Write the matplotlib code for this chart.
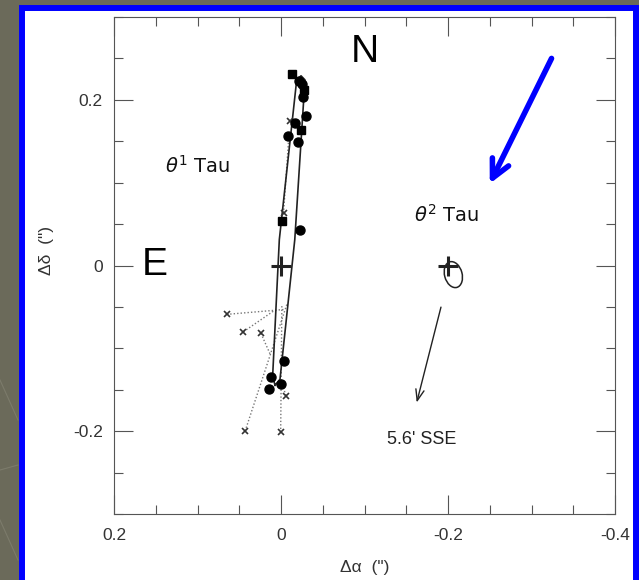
import matplotlib
matplotlib.use("Agg")
import matplotlib.pyplot as plt
from matplotlib.patches import Rectangle, Ellipse
from matplotlib.ticker import MultipleLocator, FixedLocator, FixedFormatter

# ---------------- data ----------------
# orbit track of theta1 Tau (thin closed loop)
orbit_x = [0.0072, 0.0100, 0.0020, -0.0188, -0.0240, -0.0287, -0.0165, 0.0012, 0.0072]
orbit_y = [-0.1446, -0.1334, 0.0313, 0.2241, 0.2290, 0.2241, 0.0313, -0.1373, -0.1446]

# filled circle observations
circ_x = [-0.022, -0.025, -0.026, -0.030, -0.017, -0.0088, -0.0208, -0.023,
          -0.0036, 0.012, 0.000, 0.014]
circ_y = [0.223, 0.219, 0.204, 0.180, 0.172, 0.156, 0.149, 0.0425,
          -0.115, -0.1346, -0.143, -0.149]

# filled square observations
sq_x = [-0.0132, -0.0275, -0.0236, -0.001]
sq_y = [0.231, 0.212, 0.164, 0.054]

# cross observations and their predicted positions (dotted residuals)
obs_x = [0.065, 0.045, 0.024, -0.006, 0.043, 0.0004, -0.003, -0.011]
obs_y = [-0.059, -0.080, -0.082, -0.157, -0.200, -0.2016, 0.063, 0.174]
pred_x = [-0.005, 0.009, 0.013, 0.001, -0.007, -0.001, -0.009, -0.011]
pred_y = [-0.053, -0.055, -0.107, -0.137, -0.047, -0.049, 0.150, 0.174]

# star positions
star_x = [0.0, -0.2]
star_y = [0.0, 0.0]

# error ellipse near theta2 Tau
ell_center = (-0.2064, -0.0110)
ell_w, ell_h, ell_ang = 0.021, 0.032, -15

# motion arrow
arrow_start = (-0.1924, -0.047)
arrow_end = (-0.1617, -0.1687)

x_major = [0.2, 0.0, -0.2, -0.4]
x_labels = ["0.2", "0", "-0.2", "-0.4"]
y_major = [0.2, 0.0, -0.2]
y_labels = ["0.2", "0", "-0.2"]

# ---------------- figure ----------------
W, H = 639, 580
fig = plt.figure(figsize=(W / 100, H / 100), dpi=100)
fig.patch.set_facecolor("#6b6a5a")

# faint slide texture lines
for (x0, y0, x1, y1) in [(0, 380, 18, 420), (0, 470, 18, 465), (0, 520, 18, 560)]:
    fig.add_artist(plt.Line2D([x0 / W, x1 / W], [1 - y0 / H, 1 - y1 / H],
                              color="#7c7b6b", lw=0.8, zorder=-2))

# white slide area and blue frame
fig.add_artist(Rectangle((22 / W, -20 / H), (636 - 22) / W, (H - 7.5 + 20) / H,
                         transform=fig.transFigure, facecolor="white",
                         edgecolor="none", zorder=-1))
fig.add_artist(Rectangle((22 / W, -20 / H), (636 - 22) / W, (H - 7.5 + 20) / H,
                         transform=fig.transFigure, facecolor="none",
                         edgecolor="#0000ff", lw=4.3, zorder=20))

ax = fig.add_axes([114 / W, 1 - 514 / H, 501 / W, 497 / H])
ax.set_facecolor("white")
ax.set_xlim(0.2, -0.4)
ax.set_ylim(-0.3, 0.3)

tick_col = "#555555"
for s in ax.spines.values():
    s.set_color(tick_col)
    s.set_linewidth(0.8)

ax.xaxis.set_major_locator(FixedLocator(x_major))
ax.xaxis.set_major_formatter(FixedFormatter(x_labels))
ax.yaxis.set_major_locator(FixedLocator(y_major))
ax.yaxis.set_major_formatter(FixedFormatter(y_labels))
ax.xaxis.set_minor_locator(MultipleLocator(0.05))
ax.yaxis.set_minor_locator(MultipleLocator(0.05))
ax.tick_params(which="both", direction="in", top=True, right=True,
               color=tick_col, width=0.8)
ax.tick_params(which="major", length=14, labelsize=12.5, labelcolor="#333333")
ax.tick_params(which="minor", length=6.5)
ax.tick_params(axis="x", which="major", pad=10)
ax.tick_params(axis="y", which="major", pad=8)
for lab in ax.get_xticklabels() + ax.get_yticklabels():
    lab.set_fontfamily("Liberation Sans")

ax.set_xlabel('Δα  (")', fontsize=12.5, color="#333333", family="Liberation Sans")
ax.set_ylabel('Δδ  (")', fontsize=12.5, color="#333333", family="Liberation Sans")
ax.xaxis.set_label_coords(0.5, -0.092)
ax.yaxis.set_label_coords(-0.12, 0.53)

# orbit
ax.plot(orbit_x, orbit_y, color="#222222", lw=1.2, zorder=3)

# residuals
for ox, oy, px, py in zip(obs_x, obs_y, pred_x, pred_y):
    ax.plot([ox, px], [oy, py], color="#777777", lw=1.0, ls=(0, (1, 1.5)), zorder=2)
ax.plot(obs_x, obs_y, ls="none", marker="x", ms=5, mew=1.2, color="#333333", zorder=4)

# observations
ax.plot(circ_x, circ_y, ls="none", marker="o", ms=6.5, color="black", zorder=5)
ax.plot(sq_x, sq_y, ls="none", marker="s", ms=5.5, color="black", zorder=5)

# stars
ax.plot(star_x, star_y, ls="none", marker="+", ms=14, mew=2.2, color="#222222", zorder=6)

ax.add_patch(Ellipse(ell_center, ell_w, ell_h, angle=ell_ang, fill=False,
                     edgecolor="#222222", lw=1.1, zorder=6))

ax.annotate("", xy=arrow_end, xytext=arrow_start,
            arrowprops=dict(arrowstyle="->,head_length=0.8,head_width=0.3",
                            color="#222222", lw=1.0))

# texts
ax.text(-0.169, -0.2096, "5.6' SSE", fontsize=13, family="Liberation Sans",
        ha="center", va="center", color="#222222")
ax.text(0.139, 0.120, r"$\theta^1$ Tau", fontsize=14, ha="left", va="center",
        color="#111111")
ax.text(-0.159, 0.0614, r"$\theta^2$ Tau", fontsize=14, ha="left", va="center",
        color="#111111")
ax.text(-0.1006, 0.258, "N", fontsize=28, family="Liberation Sans",
        ha="center", va="center", color="black")
ax.text(0.151, 0.001, "E", fontsize=28, family="Liberation Sans",
        ha="center", va="center", color="black")

# blue pointer arrow
ax.annotate("", xy=(-0.250, 0.0988), xytext=(-0.324, 0.250),
            arrowprops=dict(arrowstyle="->,head_length=1.3,head_width=0.65",
                            color="#0000ff", lw=4.0, shrinkA=0, shrinkB=0),
            annotation_clip=False, zorder=10)

fig.savefig("out.png", dpi=100, facecolor=fig.get_facecolor())
